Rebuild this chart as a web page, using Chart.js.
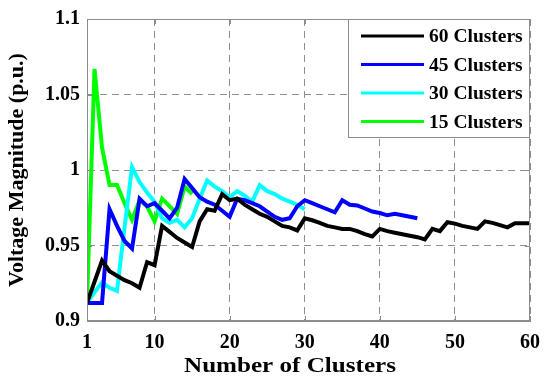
<!DOCTYPE html>
<html>
<head>
<meta charset="utf-8">
<script src="https://cdn.jsdelivr.net/npm/chart.js@4"></script>
<style>
  html, body { margin: 0; padding: 0; background: #fff; }
  #wrap { width: 550px; height: 386px; }
</style>
</head>
<body>
<div id="wrap"><canvas id="chart" width="550" height="386"></canvas></div>
<script>
// values
const xTicks = [1, 10, 20, 30, 40, 50, 60];
const yTicks = [0.9, 0.95, 1, 1.05, 1.1];
const yTickLabels = ['0.9', '0.95', '1', '1.05', '1.1'];
const xTitle = 'Number of Clusters';
const yTitle = 'Voltage Magnitude (p.u.)';

const seriesNames = ['60 Clusters', '45 Clusters', '30 Clusters', '15 Clusters'];
const seriesColors = ['#000000', '#0000ff', '#00ffff', '#00ff00'];

const v60 = [0.912, 0.926, 0.940, 0.933, 0.930, 0.927, 0.925, 0.922, 0.939, 0.937,
             0.963, 0.959, 0.955, 0.952, 0.949, 0.966, 0.974, 0.973, 0.984, 0.980,
             0.981, 0.977, 0.974, 0.971, 0.969, 0.966, 0.963, 0.962, 0.960, 0.968,
             0.9667, 0.965, 0.963, 0.962, 0.961, 0.961, 0.9595, 0.9575, 0.956, 0.961,
             0.9595, 0.9585, 0.9575, 0.9565, 0.9555, 0.954, 0.961, 0.9595, 0.9654, 0.9645,
             0.963, 0.962, 0.961, 0.966, 0.965, 0.9635, 0.962, 0.9647, 0.9647, 0.9647];
const v45 = [0.912, 0.912, 0.912, 0.974, 0.963, 0.953, 0.948, 0.981, 0.976, 0.978,
             0.973, 0.968, 0.975, 0.994, 0.988, 0.982, 0.979, 0.977, 0.973, 0.969,
             0.981, 0.980, 0.978, 0.976, 0.9725, 0.969, 0.967, 0.968, 0.976, 0.980,
             0.978, 0.976, 0.974, 0.972, 0.980, 0.977, 0.9765, 0.9745, 0.9725, 0.9715,
             0.970, 0.971, 0.970, 0.969, 0.968];
const v30 = [0.912, 0.919, 0.9255, 0.922, 0.920, 0.962, 1.002, 0.992, 0.985, 0.979,
             0.968, 0.965, 0.967, 0.962, 0.968, 0.981, 0.993, 0.989, 0.986, 0.982,
             0.986, 0.983, 0.979, 0.990, 0.986, 0.984, 0.981, 0.979, 0.977, 0.974];
const v15 = [0.912, 1.067, 1.015, 0.990, 0.990, 0.978, 0.967, 0.980, 0.976, 0.966,
             0.981, 0.976, 0.971, 0.989, 0.984];

const seriesValues = [v60, v45, v30, v15];

const serif = "'Liberation Serif', 'Times New Roman', serif";
const gridGray = '#8f8f8f';
const boxGray = '#8c8c8c';

function toPoints(vals) {
    return vals.map((v, i) => ({ x: i + 1, y: v }));
}

// box round the plot, inward ticks, x label and the legend in the top right corner
const framePlugin = {
    id: 'frame',
    afterDatasetsDraw(chart) {
        const { ctx, chartArea: a, scales } = chart;
        ctx.save();
        ctx.strokeStyle = boxGray;
        ctx.lineWidth = 1;
        ctx.setLineDash([]);
        ctx.strokeRect(a.left + 0.5, a.top + 0.5, a.right - a.left - 1, a.bottom - a.top - 1);

        ctx.beginPath();
        xTicks.forEach(t => {
            const px = Math.round(scales.x.getPixelForValue(t)) + 0.5;
            ctx.moveTo(px, a.bottom); ctx.lineTo(px, a.bottom - 5);
            ctx.moveTo(px, a.top); ctx.lineTo(px, a.top + 5);
        });
        yTicks.forEach(t => {
            const py = Math.round(scales.y.getPixelForValue(t)) + 0.5;
            ctx.moveTo(a.left, py); ctx.lineTo(a.left + 5, py);
            ctx.moveTo(a.right, py); ctx.lineTo(a.right - 5, py);
        });
        ctx.stroke();

        // x label: a little left of centre and slightly wide in the original
        ctx.save();
        ctx.fillStyle = '#000';
        ctx.font = 'bold 22px ' + serif;
        ctx.textAlign = 'center';
        ctx.textBaseline = 'middle';
        const sx = 212 / ctx.measureText(xTitle).width;
        ctx.translate(290, 366);
        ctx.scale(sx, 1);
        ctx.fillText(xTitle, 0, 0);
        ctx.restore();

        // legend
        const lx = 348, ly = a.top, lw = a.right - lx, lh = 119;
        ctx.fillStyle = '#fff';
        ctx.fillRect(lx, ly, lw, lh);
        ctx.strokeStyle = boxGray;
        ctx.strokeRect(lx + 0.5, ly + 0.5, lw - 1, lh - 1);
        ctx.font = 'bold 19.5px ' + serif;
        ctx.textAlign = 'left';
        ctx.textBaseline = 'middle';
        chart.data.datasets.forEach((ds, i) => {
            const y = ly + 17 + i * 28.5;
            ctx.strokeStyle = ds.borderColor;
            ctx.lineWidth = 3;
            ctx.beginPath();
            ctx.moveTo(361, y); ctx.lineTo(424, y);
            ctx.stroke();
            ctx.fillStyle = '#000';
            ctx.fillText(ds.label, 429, y + 1);
        });
        ctx.restore();
    }
};

new Chart(document.getElementById('chart'), {
    type: 'line',
    data: {
        datasets: seriesNames.map((name, i) => ({
            label: name,
            data: toPoints(seriesValues[i]),
            borderColor: seriesColors[i],
            backgroundColor: seriesColors[i],
            borderWidth: 4,
            pointRadius: 0,
            tension: 0,
            fill: false
        }))
    },
    options: {
        responsive: false,
        animation: false,
        layout: { padding: { left: 0, right: 15, top: 15, bottom: 0 } },
        plugins: {
            legend: { display: false },
            tooltip: { enabled: false }
        },
        scales: {
            x: {
                type: 'linear',
                min: 1, max: 60,
                afterBuildTicks(scale) { scale.ticks = xTicks.map(v => ({ value: v })); },
                afterFit(scale) { scale.height = 65; },
                grid: { color: gridGray, lineWidth: 1, drawTicks: false },
                border: { display: true, color: boxGray, dash: [7, 5] },
                ticks: {
                    color: '#000',
                    font: { family: serif, size: 20, weight: 'bold' },
                    padding: 10,
                    maxRotation: 0
                },
                title: { display: false }
            },
            y: {
                min: 0.9, max: 1.1,
                afterBuildTicks(scale) { scale.ticks = yTicks.map(v => ({ value: v })); },
                afterFit(scale) { scale.width = 87; },
                grid: { color: gridGray, lineWidth: 1, drawTicks: false },
                border: { display: true, color: boxGray, dash: [7, 5] },
                ticks: {
                    color: '#000',
                    font: { family: serif, size: 20, weight: 'bold' },
                    padding: 7,
                    callback(value) {
                        const i = yTicks.findIndex(t => Math.abs(t - value) < 1e-9);
                        return i >= 0 ? yTickLabels[i] : '';
                    }
                },
                title: {
                    display: true,
                    text: yTitle,
                    color: '#000',
                    font: { family: serif, size: 22, weight: 'bold' },
                    padding: { top: 4, bottom: 0 }
                }
            }
        }
    },
    plugins: [framePlugin]
});
</script>
</body>
</html>
